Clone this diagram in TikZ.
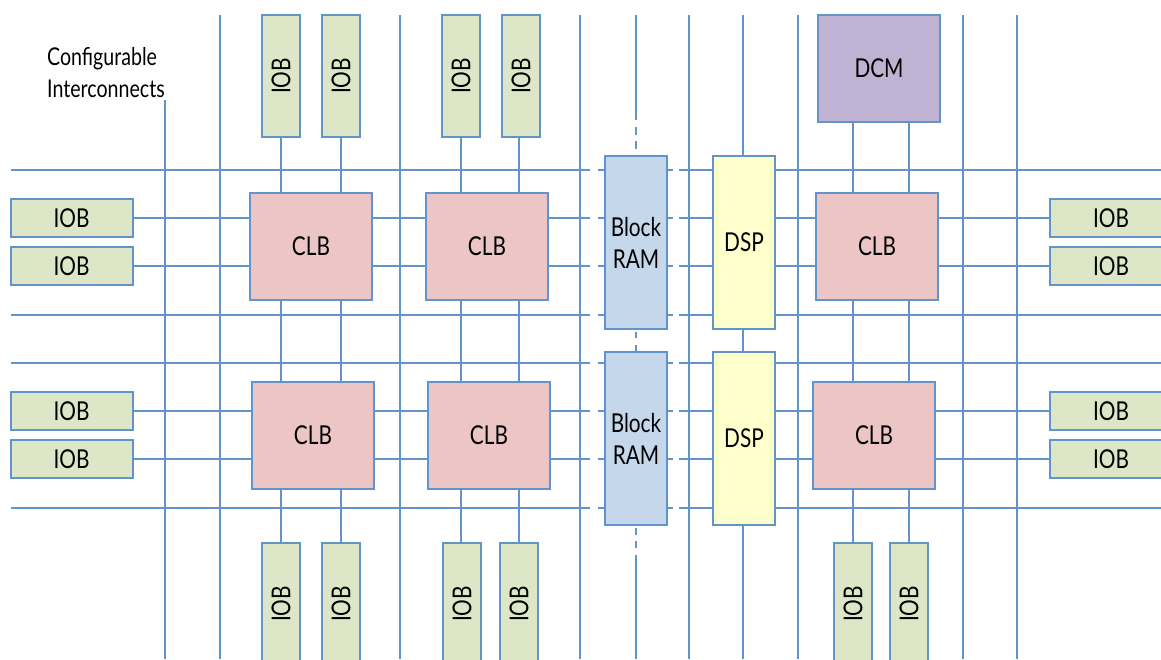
\documentclass[tikz,border=0pt]{standalone}
\usepackage{fontspec}
\usepackage{graphicx}
\setmainfont{Lato}[FakeStretch=0.8]
\usetikzlibrary{backgrounds}
\definecolor{linec}{RGB}{98,148,204}
\definecolor{iobc}{RGB}{222,230,200}
\definecolor{clbc}{RGB}{235,198,197}
\definecolor{bramc}{RGB}{197,215,235}
\definecolor{dspc}{RGB}{255,255,204}
\definecolor{dcmc}{RGB}{192,178,211}
\begin{document}
\begin{tikzpicture}[x=1pt,y=-1pt,
  wire/.style={draw=linec,line width=2pt},
  blk/.style={draw=linec,line width=2pt,rectangle,inner sep=0pt,outer sep=0pt,
    font=\fontsize{26}{32}\selectfont,align=center,text=black},
  iobh/.style={blk,fill=iobc,minimum width=122pt,minimum height=38pt},
  iobv/.style={blk,fill=iobc,minimum width=38pt,minimum height=122pt},
  clb/.style={blk,fill=clbc,minimum width=122pt,minimum height=107pt},
  bram/.style={blk,fill=bramc,minimum width=62pt,minimum height=173pt},
  dsp/.style={blk,fill=dspc,minimum width=62pt,minimum height=173pt},
  dcm/.style={blk,fill=dcmc,minimum width=122pt,minimum height=107pt},
  lbl/.style={font=\fontsize{24.5}{32}\selectfont,align=left,inner sep=0pt,text=black}
]
\useasboundingbox (0,0) rectangle (1161,659);
\clip (0,0) rectangle (1161,659);

% label
\node[lbl,anchor=west] (label) at (47,73) {Configurable\\Interconnects};

% top IOBs
\node[iobv] (iobT1) at (281,76) {\rotatebox{90}{IOB}};
\node[iobv] (iobT2) at (341,76) {\rotatebox{90}{IOB}};
\node[iobv] (iobT3) at (461,76) {\rotatebox{90}{IOB}};
\node[iobv] (iobT4) at (521,76) {\rotatebox{90}{IOB}};
\node[dcm] (dcm) at (879,68.5) {DCM};

% bottom IOBs
\node[iobv] (iobB1) at (281,604) {\rotatebox{90}{IOB}};
\node[iobv] (iobB2) at (341,604) {\rotatebox{90}{IOB}};
\node[iobv] (iobB3) at (462,604) {\rotatebox{90}{IOB}};
\node[iobv] (iobB4) at (519,604) {\rotatebox{90}{IOB}};
\node[iobv] (iobB5) at (853,604) {\rotatebox{90}{IOB}};
\node[iobv] (iobB6) at (909,604) {\rotatebox{90}{IOB}};

% left / right IOBs
\node[iobh] (iobL1) at (71.5,218) {IOB};
\node[iobh] (iobL2) at (71.5,266) {IOB};
\node[iobh] (iobL3) at (71.5,411) {IOB};
\node[iobh] (iobL4) at (71.5,459) {IOB};
\node[iobh] (iobR1) at (1111,218) {IOB};
\node[iobh] (iobR2) at (1111,266) {IOB};
\node[iobh] (iobR3) at (1111,411) {IOB};
\node[iobh] (iobR4) at (1111,459) {IOB};

% CLBs
\node[clb] (clb1) at (311,246.5) {CLB};
\node[clb] (clb2) at (487,246.5) {CLB};
\node[clb] (clb3) at (877,246.5) {CLB};
\node[clb] (clb4) at (313,435) {CLB};
\node[clb] (clb5) at (489,435) {CLB};
\node[clb] (clb6) at (874,435) {CLB};

% Block RAM and DSP
\node[bram] (bram1) at (636,242.5) {Block\\RAM};
\node[bram] (bram2) at (636,438.5) {Block\\RAM};
\node[dsp] (dsp1) at (744,242.5) {DSP};
\node[dsp] (dsp2) at (744,438.5) {DSP};

\begin{scope}[on background layer]
  % vertical interconnects
  \draw[wire] (165,100) -- (165,659);
  \foreach \x in {220,400,580,689,743,798,963,1017}
    \draw[wire] (\x,15) -- (\x,659);
  % dashed column through the block RAMs
  \draw[wire] (636,15) -- (636,120);
  \draw[wire] (636,127) -- (636,135);
  \draw[wire] (636,141) -- (636,149);
  \draw[wire] (636,332) -- (636,338);
  \draw[wire] (636,345) -- (636,352);
  \draw[wire] (636,528) -- (636,535);
  \draw[wire] (636,541) -- (636,548);
  \draw[wire] (636,555) -- (636,659);
  % horizontal interconnects
  \foreach \y in {170,315,363,508} {
    \draw[wire] (11,\y) -- (590,\y);
    \draw[wire] (598,\y) -- (606,\y);
    \draw[wire] (666,\y) -- (673,\y);
    \draw[wire] (679,\y) -- (1161,\y);
  }
  % IOB rows
  \foreach \a/\b in {iobL1/iobR1,iobL2/iobR2,iobL3/iobR3,iobL4/iobR4} {
    \draw[wire] (\a.east) -- (\a.east -| 590,0);
    \draw[wire] (\a.east -| 598,0) -- (\a.east -| bram1.west);
    \draw[wire] (\a.east -| bram1.east) -- (\a.east -| 673,0);
    \draw[wire] (\a.east -| 679,0) -- (\b.west);
  }
  % IOB columns through CLBs
  \draw[wire] (iobT1.south) -- (iobT1.south |- iobB1.north);
  \draw[wire] (iobT2.south) -- (iobT2.south |- iobB2.north);
  \draw[wire] (iobT3.south) -- (iobT3.south |- iobB3.north);
  \draw[wire] (iobB4.north |- iobT4.south) -- (iobB4.north);
  \draw[wire] (iobB5.north |- dcm.south) -- (iobB5.north);
  \draw[wire] (iobB6.north |- dcm.south) -- (iobB6.north);
\end{scope}
\end{tikzpicture}
\end{document}
